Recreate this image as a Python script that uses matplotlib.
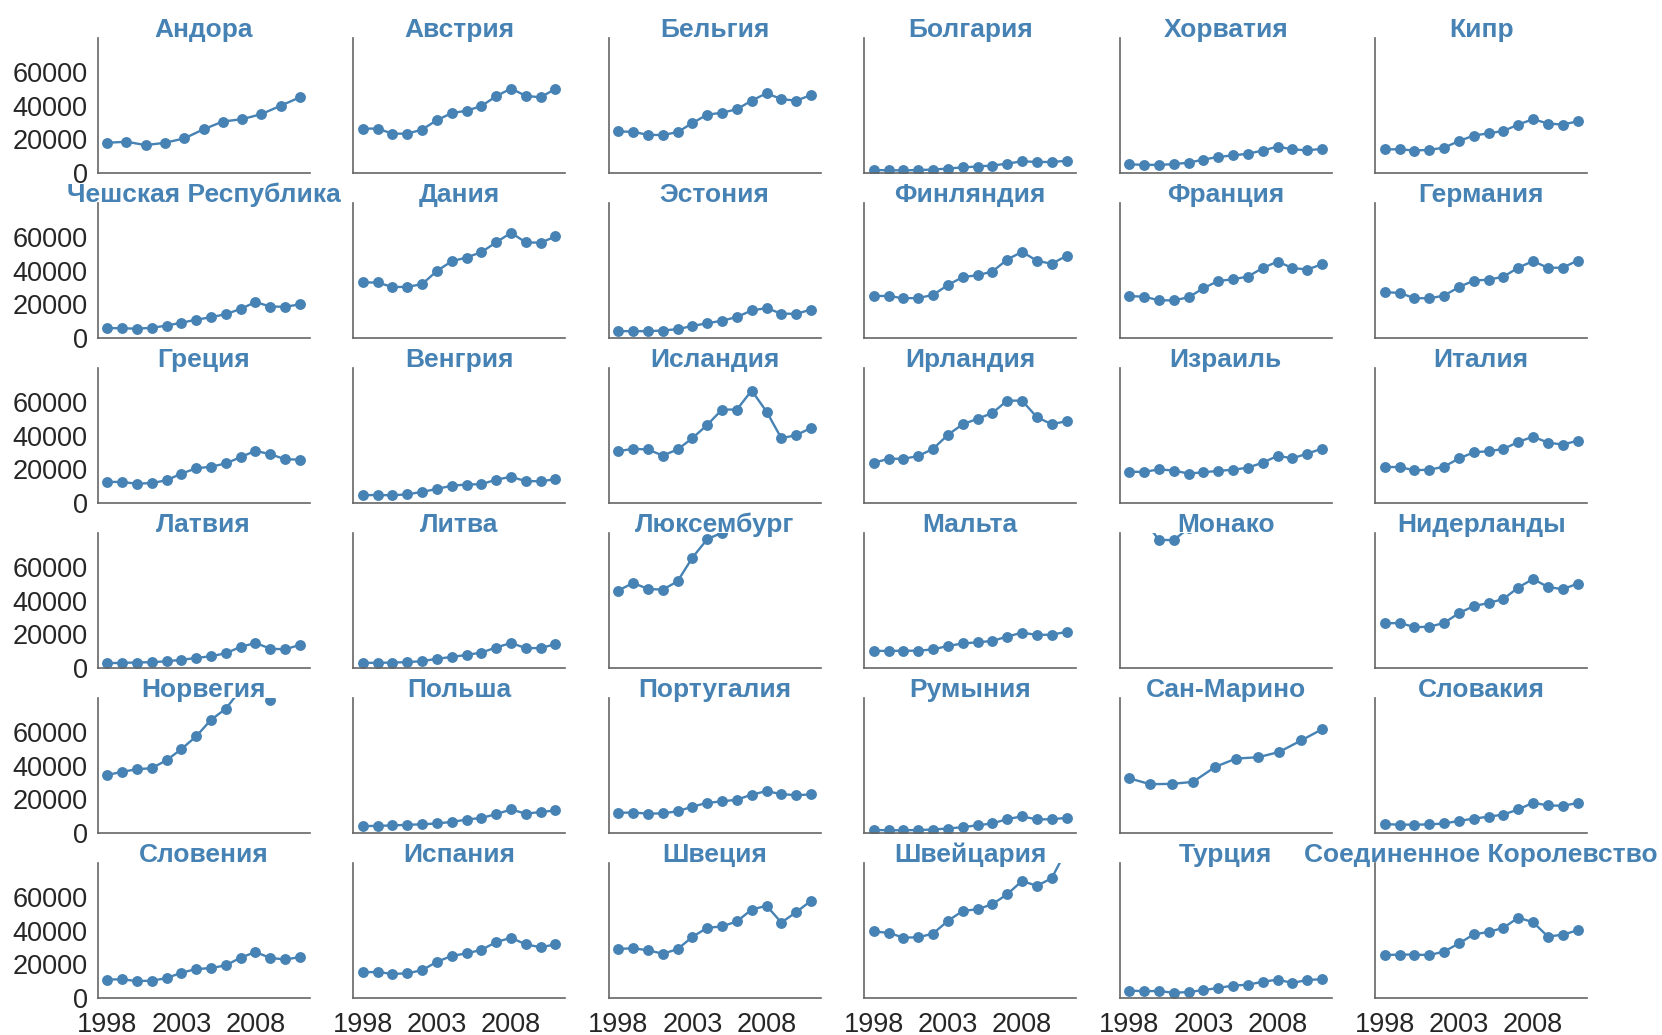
import matplotlib
matplotlib.use("Agg")
import matplotlib.pyplot as plt

# ---------------- data ----------------
years = [1998, 1999, 2000, 2001, 2002, 2003, 2004, 2005, 2006, 2007, 2008, 2009, 2010, 2011]
andorra_years = [1998, 1999.3, 2000.6, 2001.9, 2003.2, 2004.5, 2005.8, 2007.1, 2008.4, 2009.7, 2011]
san_marino_years = [1998, 1999.4, 2000.9, 2002.3, 2003.8, 2005.2, 2006.7, 2008.1, 2009.6, 2011]

countries = ["Андора", "Австрия", "Бельгия", "Болгария", "Хорватия", "Кипр",
             "Чешская Республика", "Дания", "Эстония", "Финляндия", "Франция", "Германия",
             "Греция", "Венгрия", "Исландия", "Ирландия", "Израиль", "Италия",
             "Латвия", "Литва", "Люксембург", "Мальта", "Монако", "Нидерланды",
             "Норвегия", "Польша", "Португалия", "Румыния", "Сан-Марино", "Словакия",
             "Словения", "Испания", "Швеция", "Швейцария", "Турция", "Соединенное Королевство"]

andorra = [18000, 18600, 16600, 18000, 20600, 26000, 30600, 32000, 35000, 40000, 45000]
austria = [26400, 26400, 23400, 23400, 25800, 31400, 35600, 37000, 39800, 45600, 50200, 45800, 45000, 50000]
belgium = [24700, 24500, 22700, 22600, 24300, 29700, 34700, 35800, 37900, 43000, 47400, 43900, 43000, 46300]
bulgaria = [1800, 1700, 1600, 1800, 2100, 2700, 3400, 3900, 4500, 5600, 7000, 6600, 6600, 7300]
croatia = [5200, 4900, 4900, 5300, 6200, 8000, 9600, 10500, 11500, 13400, 15700, 14100, 13500, 14400]
cyprus = [14100, 14100, 13400, 13800, 15100, 19000, 22300, 23600, 25000, 28800, 32000, 29400, 28800, 30700]
czech = [6000, 5800, 5600, 6100, 7400, 9100, 10900, 12400, 14200, 17300, 21400, 18700, 18600, 20000]
denmark = [33000, 33000, 30300, 30400, 32000, 39800, 45600, 47800, 51000, 56800, 62500, 56800, 56600, 60300]
estonia = [4100, 4100, 4100, 4500, 5300, 7200, 8800, 10300, 12500, 16400, 17800, 14500, 14400, 16900]
finland = [25000, 25000, 23600, 23800, 25600, 31500, 36200, 37300, 39500, 46600, 51200, 45900, 44100, 48800]
france = [24900, 24600, 22400, 22400, 24200, 29600, 33900, 34900, 36500, 41600, 45400, 41600, 40700, 43800]
germany = [27300, 26800, 23700, 23600, 25200, 30300, 34100, 34700, 36400, 41800, 45700, 41700, 41800, 46000]
greece = [12600, 12500, 11500, 11900, 13500, 17500, 20600, 21600, 23500, 27300, 31000, 29000, 26000, 25800]
hungary = [4700, 4800, 4600, 5200, 6600, 8400, 10300, 11000, 11200, 13900, 15600, 13000, 13000, 14100]
iceland = [30800, 32200, 31800, 28200, 31800, 38500, 46400, 55500, 55500, 66800, 54300, 38500, 40300, 44600]
ireland = [23900, 26300, 26300, 27900, 32200, 40500, 46800, 50000, 53500, 60800, 60800, 51000, 46800, 48600]
israel = [18600, 18500, 20000, 19300, 17500, 18300, 19100, 19800, 21000, 24000, 28000, 26600, 29300, 32300]
italy = [21500, 21300, 19500, 19800, 21600, 26500, 30100, 30800, 32100, 36300, 39400, 35900, 34700, 37000]
latvia = [2900, 3100, 3300, 3500, 4000, 4900, 6000, 7000, 8800, 12600, 14900, 11500, 11100, 13800]
lithuania = [3100, 3100, 3300, 3500, 4100, 5500, 6600, 7800, 9200, 12200, 14900, 11800, 11900, 14200]
luxembourg = [46000, 50500, 47000, 46500, 51500, 65500, 76500, 80300, 89700, 107000, 118000, 104000, 104000, 115000]
malta = [10200, 10200, 10300, 10300, 11100, 13100, 14600, 15300, 16100, 18700, 21000, 19700, 19800, 21500]
monaco = [90000, 88000, 76000, 76000, 83000, 101000, 113000, 118000, 125000, 150000, 180000, 153000, 145000, 164000]
netherlands = [26500, 26800, 24300, 24500, 26800, 32600, 36800, 38600, 41000, 47800, 52900, 48100, 46800, 50100]
norway = [34500, 36300, 37900, 38500, 43200, 49800, 57400, 67200, 73800, 85100, 96900, 79000, 87700, 100600]
poland = [4100, 4300, 4500, 4900, 5200, 5700, 6600, 8000, 9000, 11200, 14000, 11500, 12500, 13400]
portugal = [12000, 12200, 11500, 11700, 12900, 15700, 17900, 18800, 19800, 22800, 24900, 23100, 22500, 22900]
romania = [1900, 1600, 1700, 1800, 2100, 2700, 3500, 4600, 5700, 8300, 9900, 8100, 8200, 9000]
san_marino = [32500, 29000, 29200, 30400, 39300, 44200, 45000, 48100, 55000, 61600]
slovakia = [5300, 5000, 5000, 5100, 5700, 7200, 8600, 9700, 11000, 14000, 18000, 16400, 16200, 17800]
slovenia = [11000, 11100, 10100, 10300, 11800, 15000, 17200, 17800, 19400, 24000, 27300, 23800, 22900, 24300]
spain = [15300, 15500, 14300, 14700, 16500, 21500, 25000, 26500, 28600, 33200, 35800, 31800, 30200, 31800]
sweden = [29200, 29500, 28400, 26300, 29000, 36300, 41700, 42500, 45500, 52500, 54800, 44800, 51000, 57700]
switzerland = [39500, 38700, 35900, 36000, 38300, 45800, 51700, 52700, 55700, 61600, 69500, 66600, 71100, 88000]
turkey = [4400, 4100, 4200, 3100, 3600, 4700, 6000, 7400, 7900, 9700, 10900, 9000, 10700, 11200]
uk = [25500, 25800, 25800, 25500, 27600, 32400, 37800, 39200, 41700, 47700, 45000, 36500, 37600, 40200]

series = [
    (andorra_years, andorra), (years, austria), (years, belgium), (years, bulgaria), (years, croatia), (years, cyprus),
    (years, czech), (years, denmark), (years, estonia), (years, finland), (years, france), (years, germany),
    (years, greece), (years, hungary), (years, iceland), (years, ireland), (years, israel), (years, italy),
    (years, latvia), (years, lithuania), (years, luxembourg), (years, malta), (years, monaco), (years, netherlands),
    (years, norway), (years, poland), (years, portugal), (years, romania), (san_marino_years, san_marino), (years, slovakia),
    (years, slovenia), (years, spain), (years, sweden), (years, switzerland), (years, turkey), (years, uk),
]

x_ticks = [1998, 2003, 2008]
y_ticks = [0, 20000, 40000, 60000]

# ---------------- plot ----------------
plt.rcParams["font.family"] = ["Liberation Sans", "DejaVu Sans"]
color = "#4682b4"

fig, axes = plt.subplots(6, 6, figsize=(16.62, 10.35), dpi=100, sharex=True, sharey=True)
fig.subplots_adjust(left=0.0587, right=0.955, top=0.963, bottom=0.0357, wspace=0.205, hspace=0.224)

for ax, name, (xs, ys) in zip(axes.flat, countries, series):
    ax.plot(xs, ys, color=color, lw=1.7, marker="o", ms=6.8, clip_on=True)
    ax.set_title(name, color=color, fontweight="bold", fontsize=19, pad=0, y=1.012)
    for s in ["top", "right"]:
        ax.spines[s].set_visible(False)
    for s in ["left", "bottom"]:
        ax.spines[s].set_color("0.4")
        ax.spines[s].set_linewidth(1.2)
    ax.tick_params(length=0, labelsize=19.5, labelcolor="0.15")
    ax.tick_params(axis="y", pad=7)
    ax.tick_params(axis="x", pad=10)

axes[0, 0].set_ylim(0, 80000)
axes[0, 0].set_yticks(y_ticks)
axes[0, 0].set_xticks(x_ticks)
axes[0, 0].set_xlim(1997.35, 2011.65)

fig.savefig("out.png", dpi=100)
